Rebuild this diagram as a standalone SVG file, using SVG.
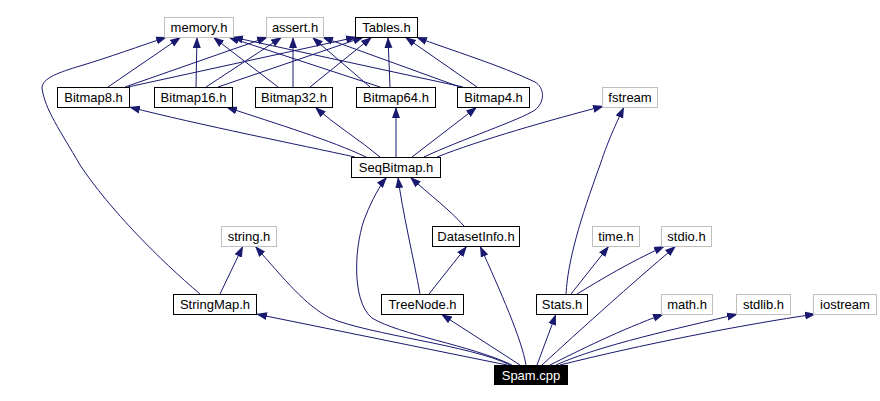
<svg xmlns="http://www.w3.org/2000/svg" width="880" height="401" viewBox="0 0 880 401">
<defs>
<marker id="ah" markerWidth="11" markerHeight="9" refX="11" refY="4.5" orient="auto" markerUnits="userSpaceOnUse"><path d="M0,0.5 L11,4.5 L0,8.5 z" fill="#191970"/></marker>
<style>
.n rect{fill:#fff;stroke:#000;stroke-width:1}
.x rect{fill:#fff;stroke:#bfbfbf;stroke-width:1}
.r rect{fill:#000;stroke:#000}
text{font-family:"Liberation Sans",Arial,sans-serif;font-size:13px;text-anchor:middle;fill:#000}
.r text{fill:#fff}
#edges path{fill:none;stroke:#191970;stroke-width:1;marker-end:url(#ah)}
</style>
</defs>
<rect width="880" height="401" fill="#fff"/>
<g id="edges">
<path d="M507,365 L256,314"/>
<path d="M510,365 C470,345 370,335 330,318 C305,305 285,280 255,246"/>
<path d="M512,365 C470,345 400,335 372,318 C350,300 355,240 366,215 C372,200 380,185 387,177"/>
<path d="M520,365 L441,314"/>
<path d="M526,365 C522,340 500,290 480,246"/>
<path d="M537,365 L556,314"/>
<path d="M542,365 C580,330 630,285 676,246"/>
<path d="M550,365 C580,350 620,330 664,314"/>
<path d="M556,365 C600,345 680,328 738,314"/>
<path d="M560,365 C640,345 740,325 816,314"/>
<path d="M566,294 C568,260 580,220 600,165 C610,135 618,120 624,107"/>
<path d="M571,294 L609,246"/>
<path d="M577,294 C600,280 630,262 665,246"/>
<path d="M437,157 C480,140 550,120 604,106"/>
<path d="M424,157 C460,140 520,120 535,110 C545,102 545,88 535,82 C500,65 450,50 416,37"/>
<path d="M355,157 C300,145 200,125 129,107"/>
<path d="M366,157 C330,140 280,125 226,107"/>
<path d="M380,157 C360,140 335,125 315,107"/>
<path d="M396,157 L396,107"/>
<path d="M412,157 L477,107"/>
<path d="M420,294 C414,260 402,210 398,177"/>
<path d="M429,294 L467,246"/>
<path d="M464,226 C450,210 430,195 410,177"/>
<path d="M220,294 L243,246"/>
<path d="M200,294 C160,260 110,210 80,165 C60,130 45,110 42,88 C42,78 60,72 80,66 C110,57 140,46 167,37"/>
<path d="M108,87 L181,37"/>
<path d="M125,87 L268,37"/>
<path d="M128,87 L357,37"/>
<path d="M196,87 L197,37"/>
<path d="M206,87 L282,37"/>
<path d="M218,87 L364,37"/>
<path d="M278,87 L213,37"/>
<path d="M293,87 L293,37"/>
<path d="M310,87 L372,37"/>
<path d="M380,87 L228,37"/>
<path d="M370,87 L312,37"/>
<path d="M390,87 L388,37"/>
<path d="M463,87 L232,37"/>
<path d="M460,87 L322,37"/>
<path d="M477,87 L405,37"/>
</g>
<g id="memory" class="x"><rect x="164.5" y="17.5" width="69" height="20"/><text x="199" y="32">memory.h</text></g>
<g id="assert" class="x"><rect x="266.5" y="17.5" width="57" height="20"/><text x="295" y="32">assert.h</text></g>
<g id="tables" class="n"><rect x="355.5" y="17.5" width="62" height="20"/><text x="386.5" y="32">Tables.h</text></g>
<g id="bitmap8" class="n"><rect x="57.5" y="87.5" width="72" height="20"/><text x="93.5" y="102">Bitmap8.h</text></g>
<g id="bitmap16" class="n"><rect x="154.5" y="87.5" width="78" height="20"/><text x="193.5" y="102">Bitmap16.h</text></g>
<g id="bitmap32" class="n"><rect x="255.5" y="87.5" width="77" height="20"/><text x="294" y="102">Bitmap32.h</text></g>
<g id="bitmap64" class="n"><rect x="356.5" y="87.5" width="79" height="20"/><text x="396" y="102">Bitmap64.h</text></g>
<g id="bitmap4" class="n"><rect x="457.5" y="87.5" width="72" height="20"/><text x="493.5" y="102">Bitmap4.h</text></g>
<g id="fstream" class="x"><rect x="602.5" y="87.5" width="55" height="20"/><text x="630" y="102">fstream</text></g>
<g id="seqbitmap" class="n"><rect x="351.5" y="157.5" width="89" height="20"/><text x="396" y="172">SeqBitmap.h</text></g>
<g id="string" class="x"><rect x="221.5" y="226.5" width="55" height="20"/><text x="249" y="241">string.h</text></g>
<g id="datasetinfo" class="n"><rect x="432.5" y="226.5" width="87" height="20"/><text x="476" y="241">DatasetInfo.h</text></g>
<g id="time" class="x"><rect x="592.5" y="226.5" width="47" height="20"/><text x="616" y="241">time.h</text></g>
<g id="stdio" class="x"><rect x="661.5" y="226.5" width="50" height="20"/><text x="686.5" y="241">stdio.h</text></g>
<g id="stringmap" class="n"><rect x="173.5" y="294.5" width="83" height="20"/><text x="215" y="309">StringMap.h</text></g>
<g id="treenode" class="n"><rect x="381.5" y="294.5" width="82" height="20"/><text x="422.5" y="309">TreeNode.h</text></g>
<g id="stats" class="n"><rect x="536.5" y="294.5" width="51" height="20"/><text x="562" y="309">Stats.h</text></g>
<g id="math" class="x"><rect x="661.5" y="294.5" width="51" height="20"/><text x="687" y="309">math.h</text></g>
<g id="stdlib" class="x"><rect x="736.5" y="294.5" width="54" height="20"/><text x="763.5" y="309">stdlib.h</text></g>
<g id="iostream" class="x"><rect x="813.5" y="294.5" width="63" height="20"/><text x="845" y="309">iostream</text></g>
<g id="spam" class="r"><rect x="494.5" y="365.5" width="73" height="19"/><text x="531" y="380">Spam.cpp</text></g>
</svg>
